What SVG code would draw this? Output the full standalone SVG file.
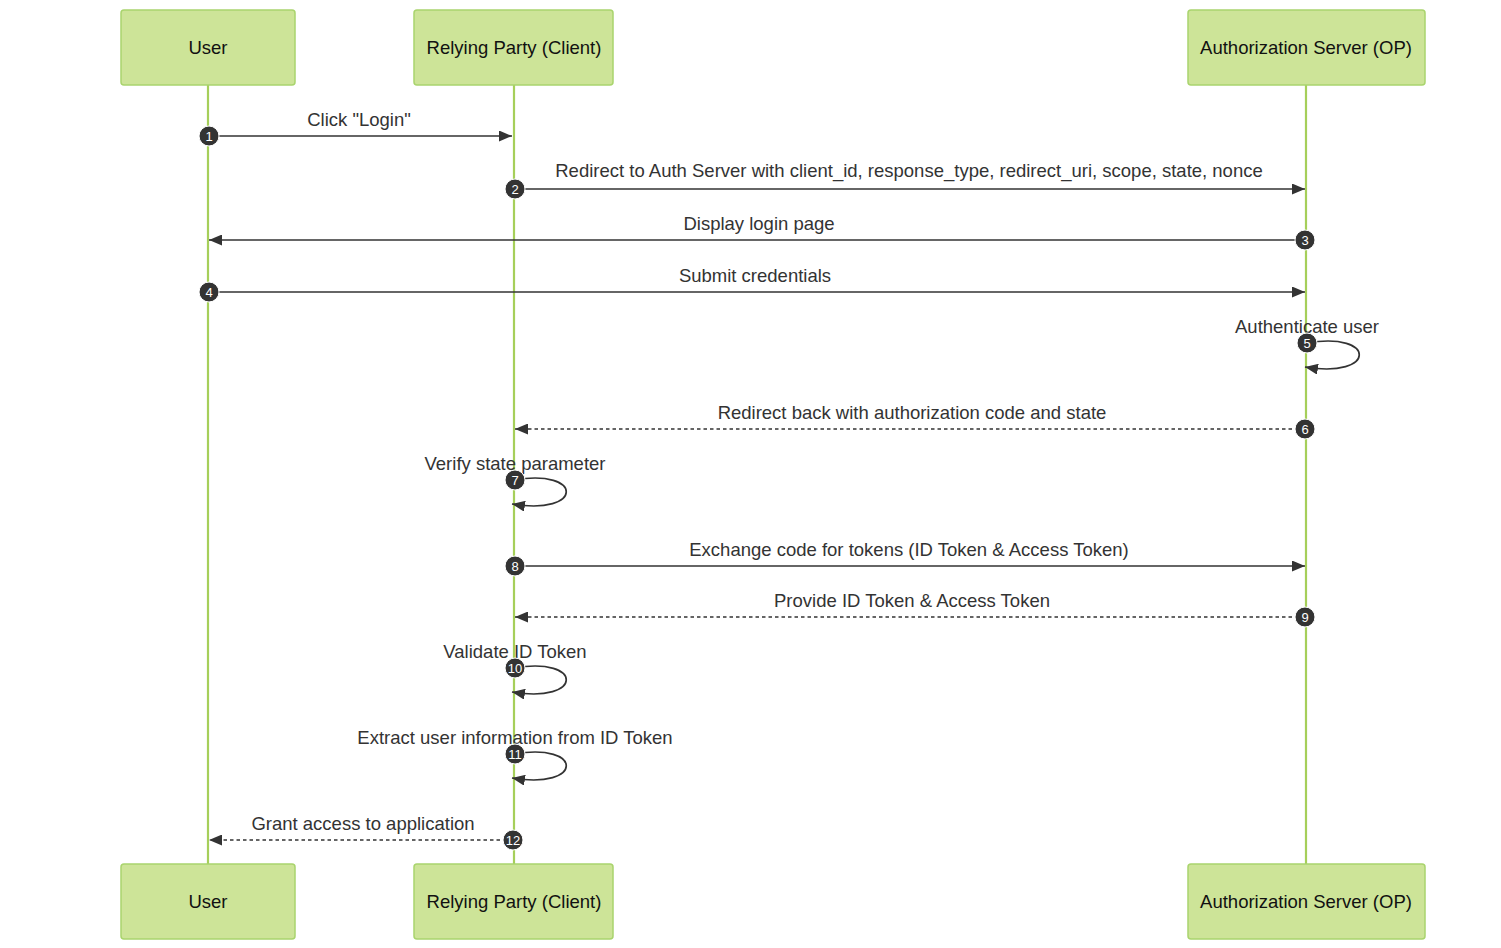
<svg xmlns="http://www.w3.org/2000/svg" width="1501" height="948" viewBox="0 0 1501 948">
<style>
.actor{fill:#cde498;stroke:#a9d46d;stroke-width:1.5}
.atext{font-family:"Liberation Sans",Arial,sans-serif;font-size:18.5px;fill:#111;text-anchor:middle}
.life{stroke:#a6cf5a;stroke-width:2.2;fill:none}
.msg{stroke:#333;stroke-width:1.7;fill:none}
.dash{stroke-dasharray:3.5,3}
.mtext{font-family:"Liberation Sans",Arial,sans-serif;font-size:18.5px;fill:#333;text-anchor:middle}
.seq circle{fill:#333;stroke:#fff;stroke-width:1}
.seq text{font-family:"Liberation Sans",Arial,sans-serif;font-size:13px;fill:#fff;text-anchor:middle}
</style>
<defs>
<marker id="arr" viewBox="0 0 13 11" refX="13" refY="5.5" markerWidth="13" markerHeight="11" markerUnits="userSpaceOnUse" orient="auto">
<path d="M0,0 L13,5.5 L0,11 z" fill="#333"/>
</marker>
</defs>
<g id="lifelines">
<line class="life" x1="208" y1="85" x2="208" y2="864"/>
<line class="life" x1="514" y1="85" x2="514" y2="864"/>
<line class="life" x1="1306" y1="85" x2="1306" y2="864"/>
</g>
<g id="actor-user-top"><rect class="actor" x="121" y="10" width="174" height="75" rx="3"/><text class="atext" x="208" y="54">User</text></g>
<g id="actor-rp-top"><rect class="actor" x="414" y="10" width="199" height="75" rx="3"/><text class="atext" x="514" y="54">Relying Party (Client)</text></g>
<g id="actor-as-top"><rect class="actor" x="1188" y="10" width="237" height="75" rx="3"/><text class="atext" x="1306" y="54">Authorization Server (OP)</text></g>
<g id="actor-user-bottom"><rect class="actor" x="121" y="864" width="174" height="75" rx="3"/><text class="atext" x="208" y="908">User</text></g>
<g id="actor-rp-bottom"><rect class="actor" x="414" y="864" width="199" height="75" rx="3"/><text class="atext" x="514" y="908">Relying Party (Client)</text></g>
<g id="actor-as-bottom"><rect class="actor" x="1188" y="864" width="237" height="75" rx="3"/><text class="atext" x="1306" y="908">Authorization Server (OP)</text></g>
<g id="connectors">
<text class="mtext" x="359" y="126">Click "Login"</text>
<line class="msg" x1="208" y1="136" x2="512" y2="136" marker-end="url(#arr)"/>
<text class="mtext" x="909" y="177">Redirect to Auth Server with client_id, response_type, redirect_uri, scope, state, nonce</text>
<line class="msg" x1="514" y1="189" x2="1305" y2="189" marker-end="url(#arr)"/>
<text class="mtext" x="759" y="230">Display login page</text>
<line class="msg" x1="1306" y1="240" x2="209" y2="240" marker-end="url(#arr)"/>
<text class="mtext" x="755" y="282">Submit credentials</text>
<line class="msg" x1="208" y1="292" x2="1305" y2="292" marker-end="url(#arr)"/>
<text class="mtext" x="1307" y="333">Authenticate user</text>
<path class="msg" d="M1307,343 C1377,331 1377,379 1305,367" marker-end="url(#arr)"/>
<text class="mtext" x="912" y="419">Redirect back with authorization code and state</text>
<line class="msg dash" x1="1305" y1="429" x2="515" y2="429" marker-end="url(#arr)"/>
<text class="mtext" x="515" y="470">Verify state parameter</text>
<path class="msg" d="M514,480 C584,468 584,516 512,504" marker-end="url(#arr)"/>
<text class="mtext" x="909" y="556">Exchange code for tokens (ID Token &amp; Access Token)</text>
<line class="msg" x1="514" y1="566" x2="1305" y2="566" marker-end="url(#arr)"/>
<text class="mtext" x="912" y="607">Provide ID Token &amp; Access Token</text>
<line class="msg dash" x1="1305" y1="617" x2="515" y2="617" marker-end="url(#arr)"/>
<text class="mtext" x="515" y="658">Validate ID Token</text>
<path class="msg" d="M514,668 C584,656 584,704 512,692" marker-end="url(#arr)"/>
<text class="mtext" x="515" y="744">Extract user information from ID Token</text>
<path class="msg" d="M514,754 C584,742 584,790 512,778" marker-end="url(#arr)"/>
<text class="mtext" x="363" y="830">Grant access to application</text>
<line class="msg dash" x1="513" y1="840" x2="209" y2="840" marker-end="url(#arr)"/>
</g>
<g id="sequence-numbers" class="seq">
<circle cx="209" cy="136" r="10"/><text x="209" y="140.7">1</text>
<circle cx="515" cy="189" r="10"/><text x="515" y="193.7">2</text>
<circle cx="1305" cy="240" r="10"/><text x="1305" y="244.7">3</text>
<circle cx="209" cy="292" r="10"/><text x="209" y="296.7">4</text>
<circle cx="1307" cy="343" r="10"/><text x="1307" y="347.7">5</text>
<circle cx="1305" cy="429" r="10"/><text x="1305" y="433.7">6</text>
<circle cx="515" cy="480" r="10"/><text x="515" y="484.7">7</text>
<circle cx="515" cy="566" r="10"/><text x="515" y="570.7">8</text>
<circle cx="1305" cy="617" r="10"/><text x="1305" y="621.7">9</text>
<circle cx="515" cy="668" r="10"/><text x="515" y="672.7">10</text>
<circle cx="515" cy="754" r="10"/><text x="515" y="758.7">11</text>
<circle cx="513" cy="840" r="10"/><text x="513" y="844.7">12</text>
</g>
</svg>
